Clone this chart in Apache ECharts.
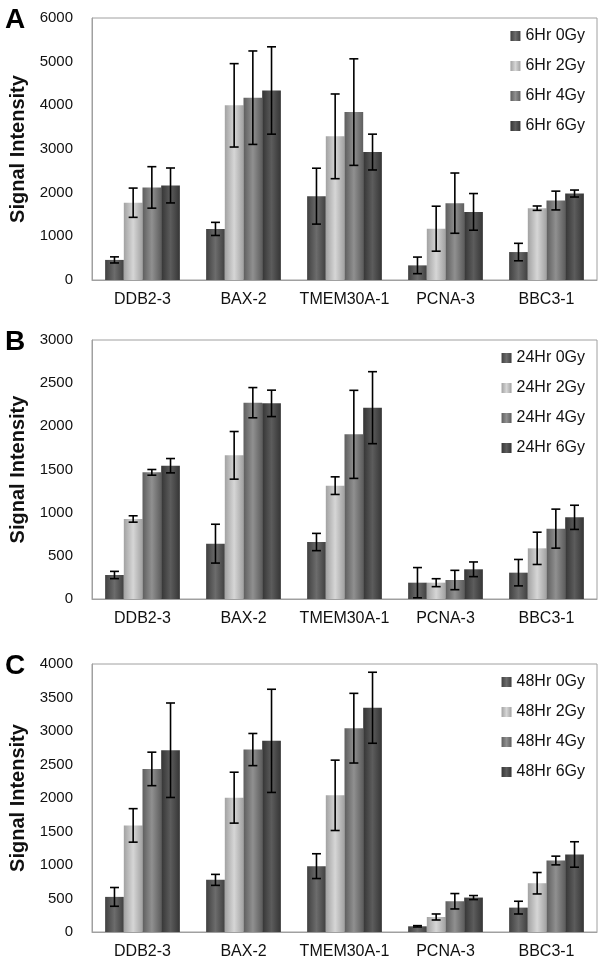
<!DOCTYPE html>
<html>
<head>
<meta charset="utf-8">
<script src="https://cdn.jsdelivr.net/npm/echarts@6/dist/echarts.min.js"></script>
<style>html,body{margin:0;padding:0;background:#fff}#c{width:600px;height:962px}</style>
</head>
<body>
<div id="c"></div>
<script>
var categories = ['DDB2-3', 'BAX-2', 'TMEM30A-1', 'PCNA-3', 'BBC3-1'];
var panelLetters = ['A', 'B', 'C'];
var yAxisTitle = 'Signal Intensity';

// Panel A: 6Hr
var h6Names = ['6Hr 0Gy', '6Hr 2Gy', '6Hr 4Gy', '6Hr 6Gy'];
var h6_0Gy = [460, 1170, 1920, 335, 640];
var h6_2Gy = [1770, 4000, 3290, 1175, 1645];
var h6_4Gy = [2120, 4175, 3845, 1760, 1820];
var h6_6Gy = [2165, 4340, 2930, 1560, 1980];
var h6_0Gy_err = [70, 150, 640, 190, 200];
var h6_2Gy_err = [335, 955, 970, 515, 50];
var h6_4Gy_err = [475, 1070, 1220, 690, 215];
var h6_6Gy_err = [400, 1000, 410, 420, 80];
var h6Ticks = [0, 6000, 1000];

// Panel B: 24Hr
var h24Names = ['24Hr 0Gy', '24Hr 2Gy', '24Hr 4Gy', '24Hr 6Gy'];
var h24_0Gy = [278, 641, 660, 189, 305];
var h24_2Gy = [927, 1664, 1313, 189, 587];
var h24_4Gy = [1467, 2274, 1907, 220, 815];
var h24_6Gy = [1544, 2266, 2216, 344, 946];
var h24_0Gy_err = [42, 225, 100, 175, 153];
var h24_2Gy_err = [37, 276, 102, 46, 187];
var h24_4Gy_err = [33, 175, 510, 112, 226];
var h24_6Gy_err = [83, 153, 417, 85, 140];
var h24Ticks = [0, 3000, 500];

// Panel C: 48Hr
var h48Names = ['48Hr 0Gy', '48Hr 2Gy', '48Hr 4Gy', '48Hr 6Gy'];
var h48_0Gy = [524, 778, 983, 85, 364];
var h48_2Gy = [1591, 2005, 2040, 224, 728];
var h48_4Gy = [2434, 2723, 3042, 459, 1067];
var h48_6Gy = [2713, 2853, 3347, 514, 1157];
var h48_0Gy_err = [140, 82, 185, 10, 95];
var h48_2Gy_err = [250, 380, 525, 45, 160];
var h48_4Gy_err = [250, 240, 520, 115, 65];
var h48_6Gy_err = [705, 770, 530, 30, 190];
var h48Ticks = [0, 4000, 500];

var panels = [
  {names: h6Names, vals: [h6_0Gy, h6_2Gy, h6_4Gy, h6_6Gy], errs: [h6_0Gy_err, h6_2Gy_err, h6_4Gy_err, h6_6Gy_err], ticks: h6Ticks, top: 18, height: 262},
  {names: h24Names, vals: [h24_0Gy, h24_2Gy, h24_4Gy, h24_6Gy], errs: [h24_0Gy_err, h24_2Gy_err, h24_4Gy_err, h24_6Gy_err], ticks: h24Ticks, top: 340, height: 259},
  {names: h48Names, vals: [h48_0Gy, h48_2Gy, h48_4Gy, h48_6Gy], errs: [h48_0Gy_err, h48_2Gy_err, h48_4Gy_err, h48_6Gy_err], ticks: h48Ticks, top: 664, height: 268}
];

var shades = [
  ['#404040', '#6c6c6c'],
  ['#a2a2a2', '#d6d6d6'],
  ['#5e5e5e', '#909090'],
  ['#353535', '#5c5c5c']
];
function grad(s) {
  return new echarts.graphic.LinearGradient(0, 0, 1, 0, [
    {offset: 0, color: s[0]}, {offset: 0.5, color: s[1]}, {offset: 1, color: s[0]}
  ]);
}

var FONT = '"Liberation Sans", Arial, Helvetica, sans-serif';
var CAT_GAP = 0.26;

var grids = [], xAxes = [], yAxes = [], series = [], legends = [], graphics = [];
panels.forEach(function (p, pi) {
  grids.push({left: 91, right: 3, top: p.top, height: p.height, show: true, borderColor: '#a0a0a0', borderWidth: 1, containLabel: false});
  xAxes.push({type: 'category', gridIndex: pi, data: categories,
    axisLine: {lineStyle: {color: '#a0a0a0'}}, axisTick: {show: false},
    axisLabel: {color: '#111', fontSize: 16, fontFamily: FONT, margin: 12, interval: 0}});
  yAxes.push({type: 'value', gridIndex: pi, min: p.ticks[0], max: p.ticks[1], interval: p.ticks[2],
    name: yAxisTitle, nameLocation: 'middle', nameGap: 64,
    nameTextStyle: {fontSize: 20, fontWeight: 'bold', color: '#111', fontFamily: FONT},
    axisLine: {show: true, lineStyle: {color: '#a0a0a0'}}, axisTick: {show: false}, splitLine: {show: false},
    axisLabel: {color: '#111', fontSize: 15, fontFamily: FONT, margin: 19, formatter: function (v) { return String(v); }}});
  p.vals.forEach(function (v, si) {
    series.push({type: 'bar', name: p.names[si], xAxisIndex: pi, yAxisIndex: pi, data: v,
      barGap: '0%', barCategoryGap: (CAT_GAP * 100) + '%',
      itemStyle: {color: grad(shades[si])}, emphasis: {disabled: true}});
  });
  p.vals.forEach(function (v, si) {
    var errs = p.errs[si];
    series.push({type: 'custom', xAxisIndex: pi, yAxisIndex: pi, z: 10, silent: true,
      data: v.map(function (val, i) { return [i, val, errs[i]]; }),
      renderItem: function (params, api) {
        var ci = api.value(0), val = api.value(1), e = api.value(2);
        var band = api.size([1, 0])[0];
        var groupW = band * (1 - CAT_GAP);
        var bw = groupW / 4;
        var c = api.coord([ci, val]);
        var x = c[0] - groupW / 2 + (si + 0.5) * bw;
        var hi = api.coord([ci, val + e])[1];
        var lo = api.coord([ci, Math.max(0, val - e)])[1];
        var cap = 4.5;
        var st = {stroke: '#000', lineWidth: 1.6};
        return {type: 'group', children: [
          {type: 'line', shape: {x1: x, y1: hi, x2: x, y2: lo}, style: st},
          {type: 'line', shape: {x1: x - cap, y1: hi, x2: x + cap, y2: hi}, style: st},
          {type: 'line', shape: {x1: x - cap, y1: lo, x2: x + cap, y2: lo}, style: st}
        ]};
      }
    });
  });
  legends.push({data: p.names, orient: 'vertical', right: 10, top: p.top + 5,
    itemWidth: 10, itemHeight: 10, itemGap: 14, icon: 'rect', selectedMode: false,
    textStyle: {fontSize: 16, color: '#111', fontFamily: FONT}});
  graphics.push({type: 'text', left: 5, top: p.top - 12,
    style: {text: panelLetters[pi], font: 'bold 28px ' + FONT, fill: '#000'}});
});

var chart = echarts.init(document.getElementById('c'), null, {renderer: 'canvas'});
chart.setOption({
  animation: false,
  backgroundColor: '#fff',
  textStyle: {fontFamily: FONT},
  grid: grids, xAxis: xAxes, yAxis: yAxes, series: series, legend: legends, graphic: graphics
});
</script>
</body>
</html>
